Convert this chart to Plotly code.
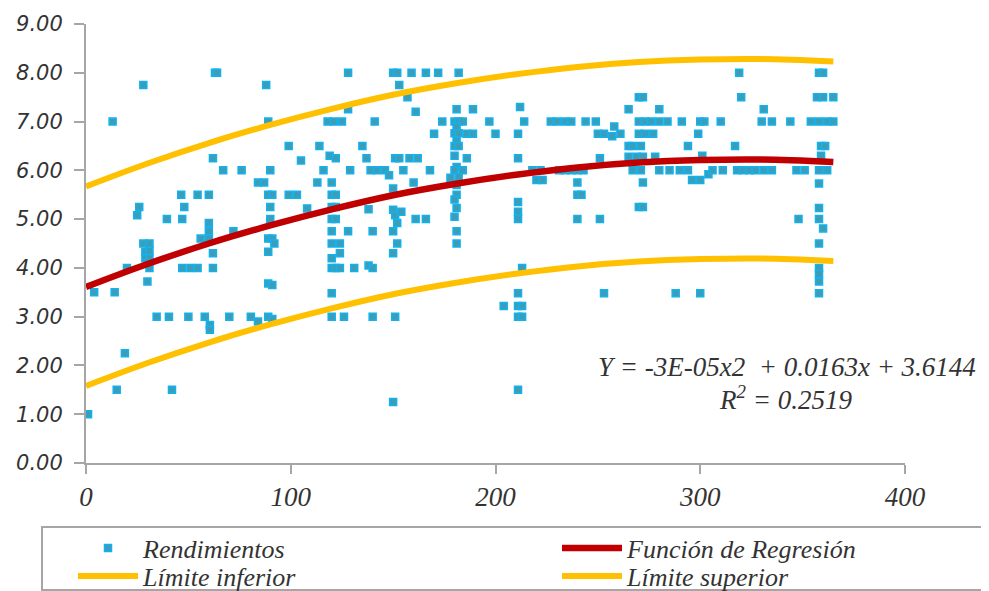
import plotly.graph_objects as go

# ---- data ----
days = [1,4,13,14,15,19,20,25,26,28,28,31,29,31,29,31,30,31,30,34.5,39.5,40.5,42,46.5,47,47,48,50,
        51,54.5,54.5,56,58,60,60,60,60,60.5,60.5,62,62,62,63,64,67,70,72,76,80.5,84,84,87,88,89,90,89,91,90,90,89,91,92,89,89,91,89,91,
        99,99,103,105,108,113,114,116,118,121,125,119,122,120,120,122,120,122,120,122,120,120,124,124,120,120,122,124,120,120,126,128,128,128,129,131,135,
        137,138,138,139,140,140,140,141,142,146,148,150,152,150,150,150,150,150,151,153,151,151,152,152,153,154,155,157,158,159,160,161,162,161,166,166,
        168,170,172,174,178,181,182,180,182,181,180,182,181,180,182,180,181,180,182,181,181,180,181,180,181,181,184,184,186,186,189,189,
        197,200,204,211,211,211,211,211,211,211,211,211,212,213,213,213,214,218,222,220,223,227,230,234,237,231,234,237,240,243,240,240,242,240,244,249,250,253,251,251,253,257,258,261,
        265,265,265,267,271,269,272,267,271,272,270,272,270,272,270,273,276,280,284,270,273,277,278,280,280,285,288,290,291,294,294,296,299,300,300,302,301,300,304,306,310,
        311,317,318,319,320,321,324,327,330,331,331,335,335,344,347,348,351,354,358,360,357,360,365,358,362,365,359,361,359,358,362,358,358,358,360,358,358,358,358,358]
yields = [1.0,3.5,7.0,3.5,1.5,2.25,4.0,5.08,5.25,7.75,4.5,4.5,4.33,4.35,4.2,4.2,4.1,4.0,3.72,3.0,5.0,3.0,1.5,5.5,5.0,4.0,5.25,3.0,
          4.0,5.5,4.0,4.6,3.0,5.5,4.92,4.75,4.6,2.83,2.73,6.25,4.3,4.0,8.0,8.0,6.0,3.0,4.75,6.0,3.0,2.9,5.75,5.75,7.75,7.0,6.0,5.5,5.5,5.25,5.0,4.6,4.6,4.5,4.33,3.68,3.65,3.0,2.95,
          6.5,5.5,5.5,6.2,5.22,5.75,6.5,6.0,7.0,7.0,7.0,6.3,6.25,5.75,5.5,5.5,5.25,5.25,5.0,5.0,4.75,4.5,4.5,4.3,4.2,4.0,4.0,4.0,3.48,3.0,3.0,8.0,7.25,4.75,6.0,4.0,6.5,
          6.25,5.2,4.05,6.0,4.75,4.0,3.0,7.0,6.0,6.0,5.9,8.0,8.0,5.63,5.19,4.75,4.3,1.25,6.25,6.25,5.08,3.0,4.92,4.5,7.75,5.15,6.0,7.5,6.25,8.0,5.75,7.2,6.25,5.0,5.0,8.0,
          6.0,6.75,8.0,7.0,5.85,7.25,8.0,7.0,7.0,6.9,6.76,6.76,6.6,6.5,6.5,6.3,6.07,6.0,5.87,5.7,5.5,5.4,5.23,5.05,4.75,4.5,7.0,6.0,6.75,6.25,7.25,6.75,
          7.0,6.75,3.22,6.75,6.25,5.35,5.15,5.0,3.48,3.22,3.0,1.5,7.3,4.0,3.22,3.0,7.0,6.0,6.0,5.8,5.8,7.0,7.0,7.0,7.0,6.0,6.0,6.0,6.0,6.0,5.75,5.5,5.5,5.0,7.0,7.0,6.75,6.75,6.25,5.0,3.48,6.7,6.9,6.75,
          7.25,6.5,6.28,6.5,6.5,6.28,6.28,6.0,6.0,5.75,5.25,5.25,7.5,7.5,7.0,7.0,7.0,7.0,7.0,6.75,6.75,6.75,6.28,7.25,6.0,6.0,3.48,6.0,7.0,6.5,6.0,5.8,6.75,5.8,7.0,7.0,6.3,3.48,5.92,6.0,7.0,
          6.0,6.5,6.0,8.0,7.5,6.0,6.0,6.0,7.0,7.25,6.0,7.0,6.0,7.0,6.0,5.0,6.0,7.0,8.0,8.0,7.5,7.5,7.5,7.0,7.0,7.0,6.5,6.5,6.3,6.0,6.0,5.73,5.23,5.0,4.81,4.5,4.0,3.88,3.72,3.48]

curve_x = [0, 30, 60, 90, 120, 150, 180, 210, 240, 270, 300, 330, 365]
reg_y = [3.61, 4.08, 4.50, 4.87, 5.20, 5.49, 5.72, 5.91, 6.06, 6.16, 6.21, 6.22, 6.17]
lower_y = [1.58, 2.05, 2.47, 2.84, 3.17, 3.46, 3.69, 3.88, 4.03, 4.13, 4.18, 4.19, 4.14]
upper_y = [5.67, 6.14, 6.56, 6.93, 7.26, 7.55, 7.78, 7.97, 8.12, 8.22, 8.27, 8.28, 8.23]

x_ticks = [0, 100, 200, 300, 400]
y_ticks = [0, 1, 2, 3, 4, 5, 6, 7, 8, 9]

# ---- figure ----
# The page body keeps its default 8px margin, so the figure is drawn 8px in.
OFF = 8
W, H = 989 - OFF, 591 - OFF
L, T = 86 - OFF, 24 - OFF
PR, PB = 905 - OFF, 463 - OFF        # plot right / bottom in figure pixels
R, B = W - PR, H - PB
pw, ph = PR - L, PB - T

def px_x(p):   # p = screen pixel x in the reference
    return (p - OFF - L) / pw

def px_y(p):   # p = screen pixel y in the reference
    return (PB - (p - OFF)) / ph

serif = "Liberation Serif"
txt_col = "#333333"
axis_col = "#a6a6a6"

fig = go.Figure()
fig.add_trace(go.Scatter(
    x=days, y=yields, mode="markers", name="Rendimientos", legend="legend",
    marker=dict(symbol="square", size=7, color="#3e9db6",
                line=dict(color="#12b2ee", width=1.5)),
))
fig.add_trace(go.Scatter(
    x=curve_x, y=reg_y, mode="lines", name="Función de Regresión", legend="legend2",
    line=dict(color="#c00000", width=6.5, shape="spline"),
))
fig.add_trace(go.Scatter(
    x=curve_x, y=lower_y, mode="lines", name="Límite inferior", legend="legend3",
    line=dict(color="#ffc000", width=6, shape="spline"),
))
fig.add_trace(go.Scatter(
    x=curve_x, y=upper_y, mode="lines", name="Límite superior", legend="legend4",
    line=dict(color="#ffc000", width=6, shape="spline"),
))

leg_font = dict(family=serif, size=26, color=txt_col, style="italic")

def leg(xpx, ypx):
    return dict(x=px_x(xpx), y=px_y(ypx), xanchor="left", yanchor="middle",
                itemwidth=60, font=leg_font, bgcolor="rgba(0,0,0,0)", borderwidth=0)

fig.update_layout(
    width=W, height=H,
    margin=dict(l=L, r=R, t=T, b=B, pad=0, autoexpand=False),
    paper_bgcolor="white", plot_bgcolor="white",
    xaxis=dict(range=[0, 400], tickvals=x_ticks, ticktext=[f"<i>{v}</i>" for v in x_ticks],
               showgrid=False, zeroline=False, showline=True, linecolor=axis_col, linewidth=2,
               ticks="outside", ticklen=9, tickwidth=1.5, tickcolor=axis_col,
               tickfont=dict(family=serif, size=27, color=txt_col)),
    yaxis=dict(range=[0, 9], tickvals=y_ticks, ticktext=[f"<i>{v:.2f}</i>" for v in y_ticks],
               showgrid=False, zeroline=False, showline=True, linecolor=axis_col, linewidth=2,
               ticks="outside", ticklen=10, tickwidth=1.5, tickcolor=axis_col,
               ticklabelstandoff=7,
               tickfont=dict(family="DejaVu Sans", size=21, color=txt_col)),
    legend=leg(73, 548),
    legend2=leg(557, 548),
    legend3=leg(73, 576),
    legend4=leg(557, 576),
    showlegend=True,
)

fig.add_shape(type="rect", xref="paper", yref="paper",
              x0=px_x(42), x1=px_x(985), y0=px_y(527), y1=px_y(590),
              line=dict(color=axis_col, width=2), fillcolor="rgba(0,0,0,0)", layer="below")

fig.add_annotation(xref="paper", yref="paper", x=px_x(787), y=px_y(367),
                   text="Y = -3E-05x2  + 0.0163x + 3.6144", showarrow=False,
                   xanchor="center", yanchor="middle",
                   font=dict(family=serif, size=27, color=txt_col, style="italic"))
fig.add_annotation(xref="paper", yref="paper", x=px_x(785), y=px_y(398),
                   text="R<sup>2</sup> = 0.2519", showarrow=False,
                   xanchor="center", yanchor="middle",
                   font=dict(family=serif, size=27, color=txt_col, style="italic"))

fig.write_html("out.html")
